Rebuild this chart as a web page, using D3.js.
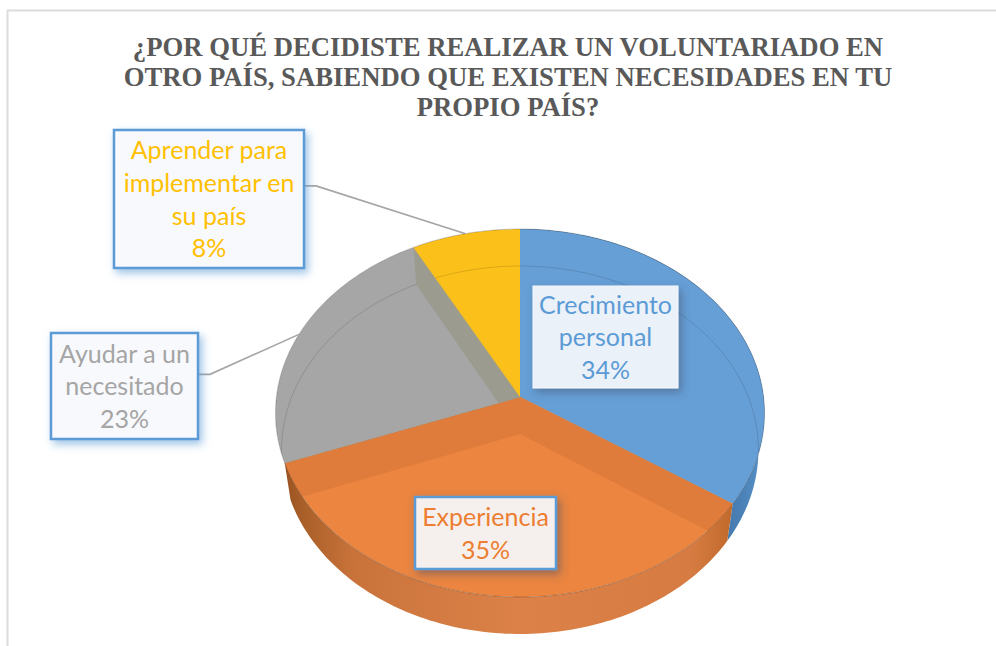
<!DOCTYPE html>
<html>
<head>
<meta charset="utf-8">
<script src="https://cdn.jsdelivr.net/npm/d3@7"></script>
<style>html,body{margin:0;padding:0;background:#fff}svg{display:block}</style>
</head>
<body>
<svg id="chart" width="996" height="646"></svg>
<script>
const titleLines = ["¿POR QUÉ DECIDISTE REALIZAR UN VOLUNTARIADO EN","OTRO PAÍS, SABIENDO QUE EXISTEN NECESIDADES EN TU","PROPIO PAÍS?"];
const categories = ["Crecimiento personal","Experiencia","Ayudar a un necesitado","Aprender para implementar en su país"];
const values = [34.4,34.9,22.9,7.8];
const labelLines = [["Crecimiento","personal"],["Experiencia"],["Ayudar a un","necesitado"],["Aprender para","implementar en","su país"]];

const floorColors = ["#669fd6","#eb8540","#a6a6a6","#fcc01a"];
const bandColors  = ["#669fd6","#df7b3b","#9c9b90","#fcc01a"];
const textColors  = ["#5b9bd5","#ed7d31","#a5a5a5","#ffc000"];
const boxes = [
  {x:533,y:286,w:145,h:102,fill:"#ebf1f9",stroke:"#f4f7fc",sw:1},
  {x:415,y:497,w:141,h:72,fill:"#f5f0ed",stroke:"#5b9bd5",sw:2.5},
  {x:51,y:333,w:147,h:106,fill:"#f8f9fd",stroke:"#5b9bd5",sw:2.5,elbow:12},
  {x:114,y:130,w:190,h:138,fill:"#f8f9fd",stroke:"#5b9bd5",sw:2.5,elbow:12}
];

const svg = d3.select("#chart");
const defs = svg.append("defs");

// tilted-disc projection: a unit circle seen in perspective
const cx=520, vy=397, A=243.6, B=182.6, k=0.087, drop=37, shrink=0.975;
const project=(t,r=1,off=0)=>{
  const X=r*Math.sin(t), Y=-r*Math.cos(t), w=1-k*Y, s=off?shrink:1;
  return [cx+s*A*X/w, vy+off+B*Y/w];
};
const line=d3.line();
const arcPts=(a,b,off=0)=>{
  const n=Math.max(2,Math.ceil(Math.abs(b-a)/0.02));
  return d3.range(n+1).map(i=>project(a+(b-a)*i/n,1,off));
};
const pie=d3.pie().sort(null)(values);
const sector=(d,off=0)=>line([project(0,0,off),...arcPts(d.startAngle,d.endAngle,off)])+"Z";

// gradients and filters
const grad=(id,stops)=>{
  const g=defs.append("linearGradient").attr("id",id)
    .attr("gradientUnits","userSpaceOnUse").attr("x1",276).attr("x2",765).attr("y1",0).attr("y2",0);
  stops.forEach(([o,c])=>g.append("stop").attr("offset",o).attr("stop-color",c));
};
grad("wallOrange",[[0,"#8f4c1c"],[0.05,"#a85e28"],[0.16,"#c9733a"],[0.5,"#dc8249"],[0.85,"#d67c42"],[0.93,"#c26a2c"],[1,"#a85a20"]]);
grad("wallBlue",[[0.85,"#3c6f9f"],[0.95,"#4a80b5"],[1,"#5a93c8"]]);
const f=defs.append("filter").attr("id","shadow").attr("x","-20%").attr("y","-20%").attr("width","150%").attr("height","150%");
f.append("feDropShadow").attr("dx",3).attr("dy",4).attr("stdDeviation",4.5).attr("flood-color","#5b9bd5").attr("flood-opacity",0.6);
const f2=defs.append("filter").attr("id","shadowDark").attr("x","-20%").attr("y","-20%").attr("width","150%").attr("height","150%");
f2.append("feDropShadow").attr("dx",3).attr("dy",4).attr("stdDeviation",4.5).attr("flood-color","#40506a").attr("flood-opacity",0.5);

// frame
svg.append("path").attr("d","M7.5 646V10.5H996").attr("fill","none").attr("stroke","#dcdcdc").attr("stroke-width",2);

// title
svg.append("g").selectAll("text").data(titleLines).join("text")
  .attr("x",508).attr("y",(d,i)=>56+i*30)
  .attr("text-anchor","middle")
  .attr("font-family","'Liberation Serif',serif").attr("font-weight","bold")
  .attr("font-size",26.7).attr("fill","#595959").text(d=>d);

// side walls (blue and orange are the only ones facing the viewer)
const wallFill=["url(#wallBlue)","url(#wallOrange)",null,null];
svg.append("g").selectAll("path").data(pie.filter((d,i)=>wallFill[i])).join("path")
  .attr("d",d=>line([...arcPts(d.startAngle,d.endAngle),...arcPts(d.endAngle,d.startAngle,drop)])+"Z")
  .attr("fill",d=>wallFill[d.index]);

// top faces
pie.forEach((d,i)=>{
  defs.append("clipPath").attr("id","sec"+i).append("path").attr("d",sector(d));
});
const faces=svg.append("g");
pie.forEach((d,i)=>{
  const g=faces.append("g").attr("clip-path",`url(#sec${i})`);
  g.append("path").attr("d",sector(d)).attr("fill",floorColors[i]);
  [d.startAngle,d.endAngle].forEach(a=>{
    g.append("path")
      .attr("d",line([project(a,0),project(a),project(a,1,drop),project(a,0,drop)])+"Z")
      .attr("fill",bandColors[i]);
  });
  g.append("path").attr("d",line(arcPts(d.startAngle,d.endAngle,drop)))
    .attr("fill","none").attr("stroke","#000").attr("stroke-opacity",0.13).attr("stroke-width",1);
  faces.append("path").attr("d",line(arcPts(d.startAngle,d.endAngle)))
    .attr("fill","none").attr("stroke","#000").attr("stroke-opacity",0.22).attr("stroke-width",1);
});
// slice edges
const edgeColors=["#c96f2e","#c96f2e","#8f8f85","#c8a020"];
pie.forEach((d,i)=>{
  faces.append("path").attr("d",line([project(0,0),project(d.startAngle)]))
   .attr("stroke",edgeColors[i]).attr("stroke-opacity",i===0?0:0.6).attr("fill","none").attr("stroke-width",1);
});

// leader lines
const leaders=[2,3].map(i=>{
  const d=pie[i], b=boxes[i], y=b.y+b.h*(i===2?0.39:0.405), x=b.x+b.w;
  return [[x,y],[x+b.elbow,y],project((d.startAngle+d.endAngle)/2)];
});
svg.append("g").selectAll("path").data(leaders).join("path")
  .attr("d",d=>line(d)).attr("fill","none").attr("stroke","#a5a5a5").attr("stroke-width",1.6);

// labels
const fmt=d3.format(".0%");
const total=d3.sum(values);
const lab=svg.append("g").selectAll("g").data(boxes).join("g");
lab.append("rect").attr("x",d=>d.x).attr("y",d=>d.y).attr("width",d=>d.w).attr("height",d=>d.h)
  .attr("fill",d=>d.fill).attr("stroke",d=>d.stroke).attr("stroke-width",d=>d.sw)
  .attr("filter",(d,i)=>i<2?"url(#shadowDark)":"url(#shadow)");
lab.each(function(b,i){
  const lines=[...labelLines[i],fmt(values[i]/total)];
  const lh=32.7, y0=b.y+b.h/2-(lines.length*lh)/2+lh*0.72+2.2;
  d3.select(this).selectAll("text").data(lines).join("text")
    .attr("x",b.x+b.w/2).attr("y",(d,j)=>y0+j*lh)
    .attr("text-anchor","middle").attr("font-family","Lato,'Open Sans',sans-serif")
    .attr("font-size",25).attr("fill",textColors[i]).text(d=>d);
});
</script>
</body>
</html>
